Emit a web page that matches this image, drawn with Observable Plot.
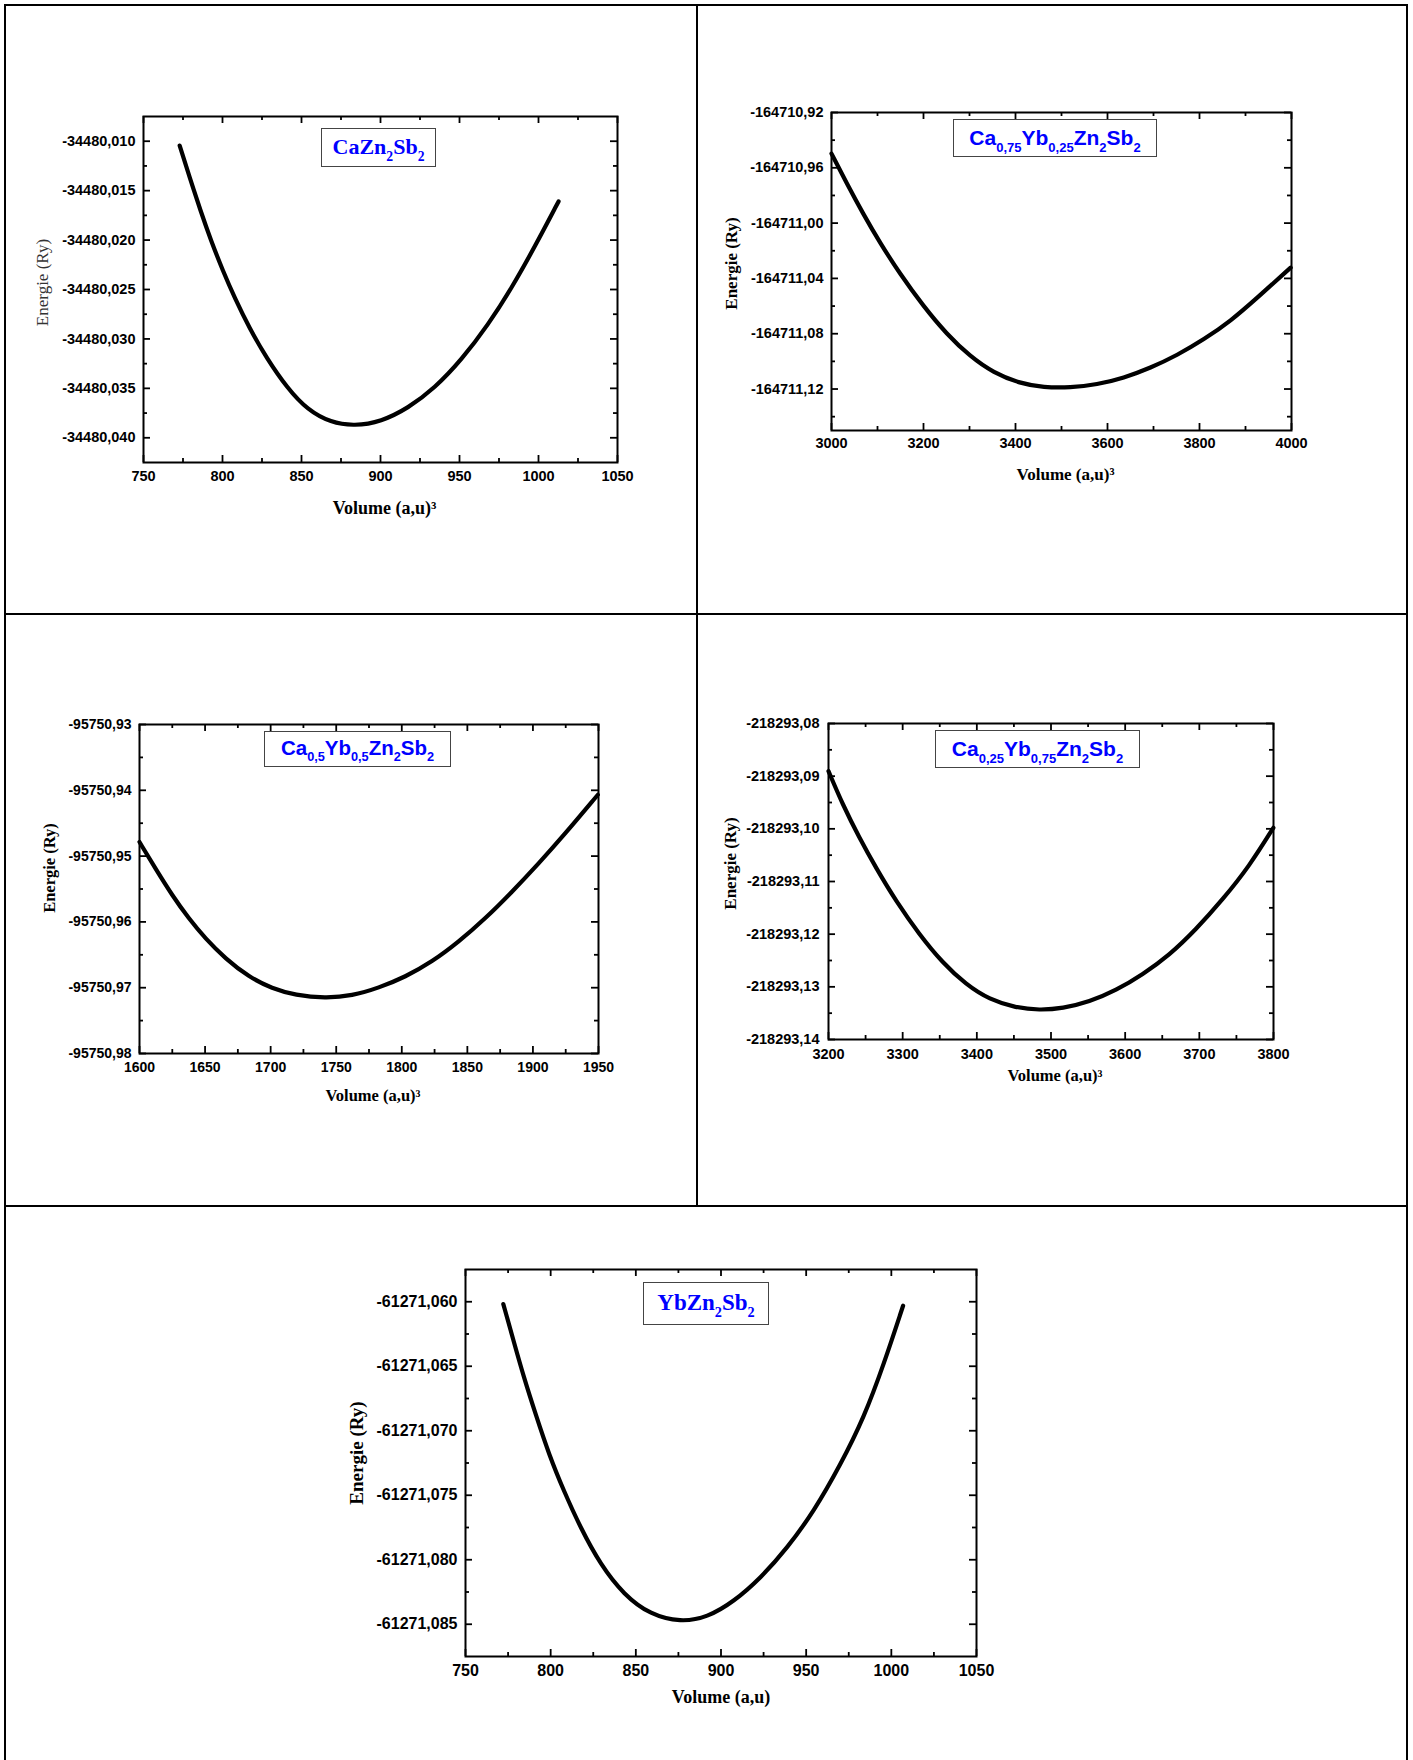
<!DOCTYPE html>
<html>
<head>
<meta charset="utf-8">
<script src="https://cdn.jsdelivr.net/npm/d3@7"></script>
<script src="https://cdn.jsdelivr.net/npm/@observablehq/plot@0.6"></script>
<style>
  html, body { margin: 0; padding: 0; background: #fff; }
  #page { position: relative; width: 1413px; height: 1760px; background: #fff; overflow: hidden; }
  .rule { position: absolute; background: #000; }
  .lbl { position: absolute; box-sizing: border-box; border: 1.5px solid #444; background: #fff;
         color: #0000ff; font-weight: bold; display: flex; align-items: center; justify-content: center;
         white-space: nowrap; line-height: 1; }
  .lbl.serif { font-family: "Liberation Serif", "Times New Roman", serif; }
  .lbl.sans { font-family: "Liberation Sans", Arial, sans-serif; }
  .lbl span.t { display: inline-block; line-height: 1; padding-bottom: 2px; }
  .lbl sub { font-size: 0.62em; vertical-align: -0.5em; line-height: 0; }
</style>
</head>
<body>
<div id="page"></div>
<script>
// ---------- Panel 1 : CaZn2Sb2 ----------
const vol1 = [772.9, 779.2, 786.1, 792.8, 800.3, 807.7, 817.0, 827.9, 841.0, 853.8, 868.6, 883.5, 900.4, 917.4, 934.3, 951.3, 968.2, 983.1, 997.9, 1012.7];
const ener1 = [-34480.01044, -34480.01366, -34480.01704, -34480.02009, -34480.02313, -34480.02584, -34480.02889, -34480.03194, -34480.03498, -34480.03718, -34480.03847, -34480.03881, -34480.03837, -34480.03701, -34480.03498, -34480.03211, -34480.02855, -34480.02483, -34480.02060, -34480.01609];
const xMajor1 = [750, 800, 850, 900, 950, 1000, 1050];
const xMinor1 = [775, 825, 875, 925, 975, 1025];
const yMajor1 = [-34480.010, -34480.015, -34480.020, -34480.025, -34480.030, -34480.035, -34480.040];
const yMinor1 = [-34480.0125, -34480.0175, -34480.0225, -34480.0275, -34480.0325, -34480.0375];

// ---------- Panel 2 : Ca0,75Yb0,25Zn2Sb2 ----------
const vol2 = [3000, 3032.7, 3069.0, 3105.3, 3148.8, 3199.6, 3250.5, 3301.3, 3352.1, 3410.2, 3461.0, 3519.1, 3577.1, 3635.2, 3693.3, 3751.4, 3809.4, 3867.5, 3925.6, 3998.2];
const ener2 = [-164710.94975, -164710.97103, -164710.99340, -164711.01420, -164711.03669, -164711.06002, -164711.08034, -164711.09642, -164711.10827, -164711.11601, -164711.11889, -164711.11903, -164711.11685, -164711.11202, -164711.10476, -164711.09557, -164711.08421, -164711.07091, -164711.05398, -164711.03221];
const xMajor2 = [3000, 3200, 3400, 3600, 3800, 4000];
const xMinor2 = [3100, 3300, 3500, 3700, 3900];
const yMajor2 = [-164710.92, -164710.96, -164711.00, -164711.04, -164711.08, -164711.12];
const yMinor2 = [-164710.94, -164710.98, -164711.02, -164711.06, -164711.10, -164711.14];

// ---------- Panel 3 : Ca0,5Yb0,5Zn2Sb2 ----------
const vol3 = [1600, 1612.2, 1624.9, 1637.6, 1650.3, 1665.5, 1683.3, 1701.1, 1718.9, 1741.7, 1762.1, 1782.4, 1802.7, 1823.0, 1843.3, 1863.7, 1884.0, 1904.3, 1924.6, 1949.5];
const ener3 = [-95750.94786, -95750.95191, -95750.95596, -95750.95950, -95750.96254, -95750.96558, -95750.96836, -95750.97013, -95750.97114, -95750.97160, -95750.97124, -95750.97003, -95750.96836, -95750.96608, -95750.96305, -95750.95950, -95750.95546, -95750.95115, -95750.94660, -95750.94068];
const xMajor3 = [1600, 1650, 1700, 1750, 1800, 1850, 1900, 1950];
const xMinor3 = [1625, 1675, 1725, 1775, 1825, 1875, 1925];
const yMajor3 = [-95750.93, -95750.94, -95750.95, -95750.96, -95750.97, -95750.98];
const yMinor3 = [-95750.935, -95750.945, -95750.955, -95750.965, -95750.975];

// ---------- Panel 4 : Ca0,25Yb0,75Zn2Sb2 ----------
const vol4 = [3200, 3219.1, 3241.6, 3264.0, 3291.0, 3322.5, 3353.9, 3385.4, 3416.9, 3452.8, 3484.3, 3515.7, 3551.7, 3587.6, 3623.6, 3659.6, 3695.5, 3731.5, 3767.4, 3799.8];
const ener4 = [-218293.08905, -218293.09538, -218293.10171, -218293.10741, -218293.11373, -218293.12006, -218293.12544, -218293.12956, -218293.13241, -218293.13399, -218293.13443, -218293.13411, -218293.13285, -218293.13070, -218293.12766, -218293.12399, -218293.11911, -218293.11342, -218293.10709, -218293.09981];
const xMajor4 = [3200, 3300, 3400, 3500, 3600, 3700, 3800];
const xMinor4 = [3250, 3350, 3450, 3550, 3650, 3750];
const yMajor4 = [-218293.08, -218293.09, -218293.10, -218293.11, -218293.12, -218293.13, -218293.14];
const yMinor4 = [-218293.085, -218293.095, -218293.105, -218293.115, -218293.125, -218293.135];

// ---------- Panel 5 : YbZn2Sb2 ----------
const vol5 = [772.2, 778.5, 784.3, 791.2, 799.0, 807.8, 817.6, 829.3, 843.0, 858.6, 876.3, 891.9, 907.6, 923.3, 938.9, 954.6, 970.2, 983.9, 995.6, 1006.9];
const ener5 = [-61271.06018, -61271.06316, -61271.06588, -61271.06873, -61271.07184, -61271.07469, -61271.07754, -61271.08039, -61271.08272, -61271.08427, -61271.08484, -61271.08448, -61271.08324, -61271.08142, -61271.07909, -61271.07624, -61271.07262, -61271.06899, -61271.06484, -61271.06031];
const xMajor5 = [750, 800, 850, 900, 950, 1000, 1050];
const xMinor5 = [775, 825, 875, 925, 975, 1025];
const yMajor5 = [-61271.060, -61271.065, -61271.070, -61271.075, -61271.080, -61271.085];
const yMinor5 = [-61271.0625, -61271.0675, -61271.0725, -61271.0775, -61271.0825];

// ---------- Texts ----------
const xTitles = ["Volume (a,u)³", "Volume (a,u)³", "Volume (a,u)³", "Volume (a,u)³", "Volume (a,u)"];
const yTitles = ["Energie (Ry)", "Energie (Ry)", "Energie (Ry)", "Energie (Ry)", "Energie (Ry)"];
const compoundLabels = [
  "CaZn<sub>2</sub>Sb<sub>2</sub>",
  "Ca<sub>0,75</sub>Yb<sub>0,25</sub>Zn<sub>2</sub>Sb<sub>2</sub>",
  "Ca<sub>0,5</sub>Yb<sub>0,5</sub>Zn<sub>2</sub>Sb<sub>2</sub>",
  "Ca<sub>0,25</sub>Yb<sub>0,75</sub>Zn<sub>2</sub>Sb<sub>2</sub>",
  "YbZn<sub>2</sub>Sb<sub>2</sub>"
];

const page = document.getElementById("page");
const SANS = "'Liberation Sans', Arial, sans-serif";
const SERIF = "'Liberation Serif', 'Times New Roman', serif";

function makePanel(p) {
  const [cx, cy, cw, ch] = p.cell;
  const [fx0, fy0, fx1, fy1] = p.frame;
  const FW = fx1 - fx0, FH = fy1 - fy0;
  const data = p.V.map((v, i) => ({v, e: p.E[i]}));
  const fmtY = d => d.toFixed(p.dec).replace(".", ",");
  const tk = {stroke: "#000", strokeWidth: 1.8};
  const svg = Plot.plot({
    width: cw, height: ch,
    marginLeft: fx0 - cx, marginRight: cx + cw - fx1,
    marginTop: fy0 - cy, marginBottom: cy + ch - fy1,
    x: {domain: p.xDomain},
    y: {domain: p.yDomain},
    style: {background: "none", fontFamily: SANS, fontSize: p.tickSize + "px", fontWeight: "bold", color: "#000", overflow: "visible"},
    marks: [
      Plot.line(data, {x: "v", y: "e", stroke: "#000", strokeWidth: 4.2, curve: "basis"}),
      // inward ticks on all four sides
      Plot.tickX(p.xMajor, {...tk, x: d => d, insetTop: FH - 7}),
      Plot.tickX(p.xMinor, {...tk, x: d => d, insetTop: FH - 4}),
      Plot.tickX(p.xMajor, {...tk, x: d => d, insetBottom: FH - 7}),
      Plot.tickX(p.xMinor, {...tk, x: d => d, insetBottom: FH - 4}),
      Plot.tickY(p.yMajor, {...tk, y: d => d, insetRight: FW - 7}),
      Plot.tickY(p.yMinor, {...tk, y: d => d, insetRight: FW - 4}),
      Plot.tickY(p.yMajor, {...tk, y: d => d, insetLeft: FW - 7}),
      Plot.tickY(p.yMinor, {...tk, y: d => d, insetLeft: FW - 4}),
      Plot.frame({stroke: "#000", strokeWidth: 2}),
      Plot.axisX(p.xMajor, {anchor: "bottom", tickSize: 0, tickPadding: p.xPad, tickFormat: d => String(d), label: null, fill: "#000"}),
      Plot.axisY(p.yMajor, {anchor: "left", tickSize: 0, tickPadding: p.yPad, tickFormat: fmtY, label: null, fill: "#000"}),
      Plot.text([p.xTitle], {text: d => d, frameAnchor: "bottom", textAnchor: "middle", lineAnchor: "middle",
        dx: p.xTitleDx, dy: p.xTitleDy,
        fontFamily: SERIF, fontSize: p.xTitleSize, fontWeight: "bold", fill: "#000"}),
      Plot.text([p.yTitle], {text: d => d, frameAnchor: "left", textAnchor: "middle", lineAnchor: "middle",
        rotate: -90, dx: p.yTitleDx, dy: p.yTitleDy,
        fontFamily: SERIF, fontSize: p.yTitleSize, fontWeight: p.yTitleWeight, fill: p.yTitleColor})
    ]
  });
  svg.style.position = "absolute";
  svg.style.left = cx + "px";
  svg.style.top = cy + "px";
  svg.style.maxWidth = "none";
  page.appendChild(svg);

  const lb = document.createElement("div");
  lb.className = "lbl " + p.labelFont;
  lb.style.left = p.box[0] + "px";
  lb.style.top = p.box[1] + "px";
  lb.style.width = (p.box[2] - p.box[0]) + "px";
  lb.style.height = (p.box[3] - p.box[1]) + "px";
  lb.style.fontSize = p.labelSize + "px";
  lb.innerHTML = '<span class="t">' + p.label + '</span>';
  page.appendChild(lb);
}

makePanel({
  cell: [0, 0, 697, 615], frame: [143, 116, 617, 462],
  V: vol1, E: ener1, xDomain: [750, 1050], yDomain: [-34480.0425, -34480.0075],
  xMajor: xMajor1, xMinor: xMinor1, yMajor: yMajor1, yMinor: yMinor1, dec: 3,
  tickSize: 14.5, xPad: 8, yPad: 8,
  xTitle: xTitles[0], xTitleSize: 18, xTitleDx: 4, xTitleDy: 46,
  yTitle: yTitles[0], yTitleSize: 17, yTitleWeight: "normal", yTitleColor: "#333", yTitleDx: -101, yTitleDy: -7,
  label: compoundLabels[0], labelFont: "serif", labelSize: 22, box: [321, 128, 436, 167]
});
makePanel({
  cell: [697, 0, 716, 615], frame: [831, 112, 1291, 430],
  V: vol2, E: ener2, xDomain: [3000, 4000], yDomain: [-164711.15, -164710.92],
  xMajor: xMajor2, xMinor: xMinor2, yMajor: yMajor2, yMinor: yMinor2, dec: 2,
  tickSize: 14.5, xPad: 7, yPad: 8,
  xTitle: xTitles[1], xTitleSize: 17, xTitleDx: 4, xTitleDy: 44,
  yTitle: yTitles[1], yTitleSize: 17, yTitleWeight: "bold", yTitleColor: "#000", yTitleDx: -100, yTitleDy: -8,
  label: compoundLabels[1], labelFont: "sans", labelSize: 21, box: [953, 119, 1157, 157]
});
makePanel({
  cell: [0, 615, 697, 591], frame: [139, 724, 598, 1053],
  V: vol3, E: ener3, xDomain: [1600, 1950], yDomain: [-95750.98, -95750.93],
  xMajor: xMajor3, xMinor: xMinor3, yMajor: yMajor3, yMinor: yMinor3, dec: 2,
  tickSize: 14, xPad: 9, yPad: 8,
  xTitle: xTitles[2], xTitleSize: 16.5, xTitleDx: 4, xTitleDy: 42,
  yTitle: yTitles[2], yTitleSize: 16.5, yTitleWeight: "bold", yTitleColor: "#000", yTitleDx: -90, yTitleDy: -21,
  label: compoundLabels[2], labelFont: "sans", labelSize: 20.5, box: [264, 731, 451, 767]
});
makePanel({
  cell: [697, 615, 716, 591], frame: [828, 723, 1273, 1039],
  V: vol4, E: ener4, xDomain: [3200, 3800], yDomain: [-218293.14, -218293.08],
  xMajor: xMajor4, xMinor: xMinor4, yMajor: yMajor4, yMinor: yMinor4, dec: 2,
  tickSize: 14.5, xPad: 9, yPad: 9,
  xTitle: xTitles[3], xTitleSize: 16.5, xTitleDx: 4, xTitleDy: 36,
  yTitle: yTitles[3], yTitleSize: 17, yTitleWeight: "bold", yTitleColor: "#000", yTitleDx: -98, yTitleDy: -18,
  label: compoundLabels[3], labelFont: "sans", labelSize: 21, box: [935, 730, 1140, 768]
});
makePanel({
  cell: [0, 1206, 1413, 554], frame: [465, 1269, 976, 1656],
  V: vol5, E: ener5, xDomain: [750, 1050], yDomain: [-61271.0875, -61271.0575],
  xMajor: xMajor5, xMinor: xMinor5, yMajor: yMajor5, yMinor: yMinor5, dec: 3,
  tickSize: 16, xPad: 8, yPad: 8,
  xTitle: xTitles[4], xTitleSize: 18, xTitleDx: 0, xTitleDy: 41,
  yTitle: yTitles[4], yTitleSize: 19, yTitleWeight: "bold", yTitleColor: "#000", yTitleDx: -109, yTitleDy: -10,
  label: compoundLabels[4], labelFont: "serif", labelSize: 23, box: [643, 1282, 769, 1325]
});

// table rules
const rules = [
  [4, 4, 1404, 2],     // top
  [4, 4, 2, 1756],     // left
  [1406, 4, 2, 1756],  // right
  [696, 4, 2, 1203],   // middle vertical
  [4, 613, 1404, 2],   // first horizontal
  [4, 1205, 1404, 2]   // second horizontal
];
for (const [l, t, w, h] of rules) {
  const d = document.createElement("div");
  d.className = "rule";
  d.style.left = l + "px"; d.style.top = t + "px";
  d.style.width = w + "px"; d.style.height = h + "px";
  page.appendChild(d);
}
</script>
</body>
</html>
